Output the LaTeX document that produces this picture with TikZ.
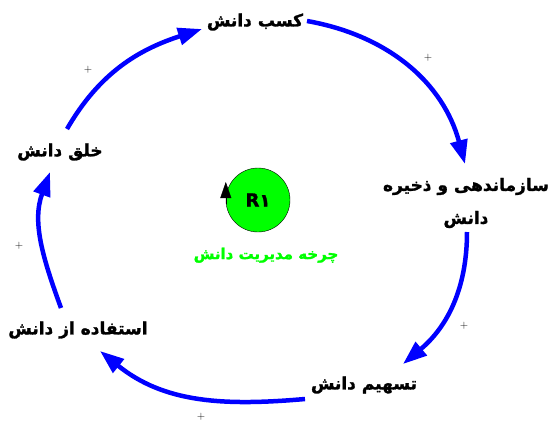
\documentclass[tikz,border=0pt]{standalone}
\usepackage{fontspec}
\newfontfamily\farsi[Script=Arabic, BoldFeatures={FakeBold=1.5}]{DejaVu Sans}
\TeXXeTstate=1
\usetikzlibrary{arrows.meta, positioning, calc}

\begin{document}
\begin{tikzpicture}[
    x=1pt, y=1pt,
    node distance=14pt,
    stage/.style={font=\farsi\bfseries\fontsize{17}{33}\selectfont, align=center, inner sep=2pt},
    link/.style={draw=blue, line width=4.5pt, -{Triangle[length=24pt, width=17pt]}},
    polarity/.style={font=\fontsize{11}{12}\selectfont, inner sep=0pt}
]
    \useasboundingbox (0,0) rectangle (549,-421);

    \node[stage] (kasb) at (255,-22) {\beginR کسب دانش\endR};
    \node[stage] (sazman) at (466,-203) {\beginR سازماندهی و ذخیره\endR\\\beginR دانش\endR};
    \node[stage] (tashim) at (364,-385) {\beginR تسهیم دانش\endR};
    \node[stage] (estefade) at (78,-330) {\beginR استفاده از دانش\endR};
    \node[stage] (khalq) at (60,-152) {\beginR خلق دانش\endR};

    \node[circle, draw=black, fill=green, minimum size=64pt, inner sep=0pt,
          font=\farsi\bfseries\fontsize{18}{20}\selectfont] (loop) at (258,-200) {R۱};
    \draw[-{Triangle[length=16pt, width=11pt]}, black] ([yshift=-4pt]loop.west) -- ([yshift=18pt]loop.west);
    \node[below=12pt of loop, xshift=8pt, text=green, font=\farsi\bfseries\fontsize{15}{18}\selectfont] (caption) {\beginR چرخه مدیریت دانش\endR};

    \draw[link] ($(kasb)+(52,1)$) to[out=-10, in=105] ($(sazman)+(-1,39)$);
    \draw[link] ($(sazman)+(1,-29)$) to[out=-90, in=40] ($(tashim)+(39,21)$);
    \draw[link] ($(tashim)+(-59,-14)$) to[out=185, in=-39] ($(estefade)+(22,-21)$);
    \draw[link] ($(estefade)+(-17,22)$) to[out=110, in=-110] ($(khalq)+(-10,-20)$);
    \draw[link] ($(khalq)+(7,23)$) to[out=60, in=198] ($(kasb)+(-53,-7)$);

    \node[polarity] (p1) at (428,-58) {+};
    \node[polarity] (p2) at (464,-326) {+};
    \node[polarity] (p3) at (201,-417) {+};
    \node[polarity] (p4) at (19,-246) {+};
    \node[polarity] (p5) at (88,-70) {+};
\end{tikzpicture}
\end{document}
